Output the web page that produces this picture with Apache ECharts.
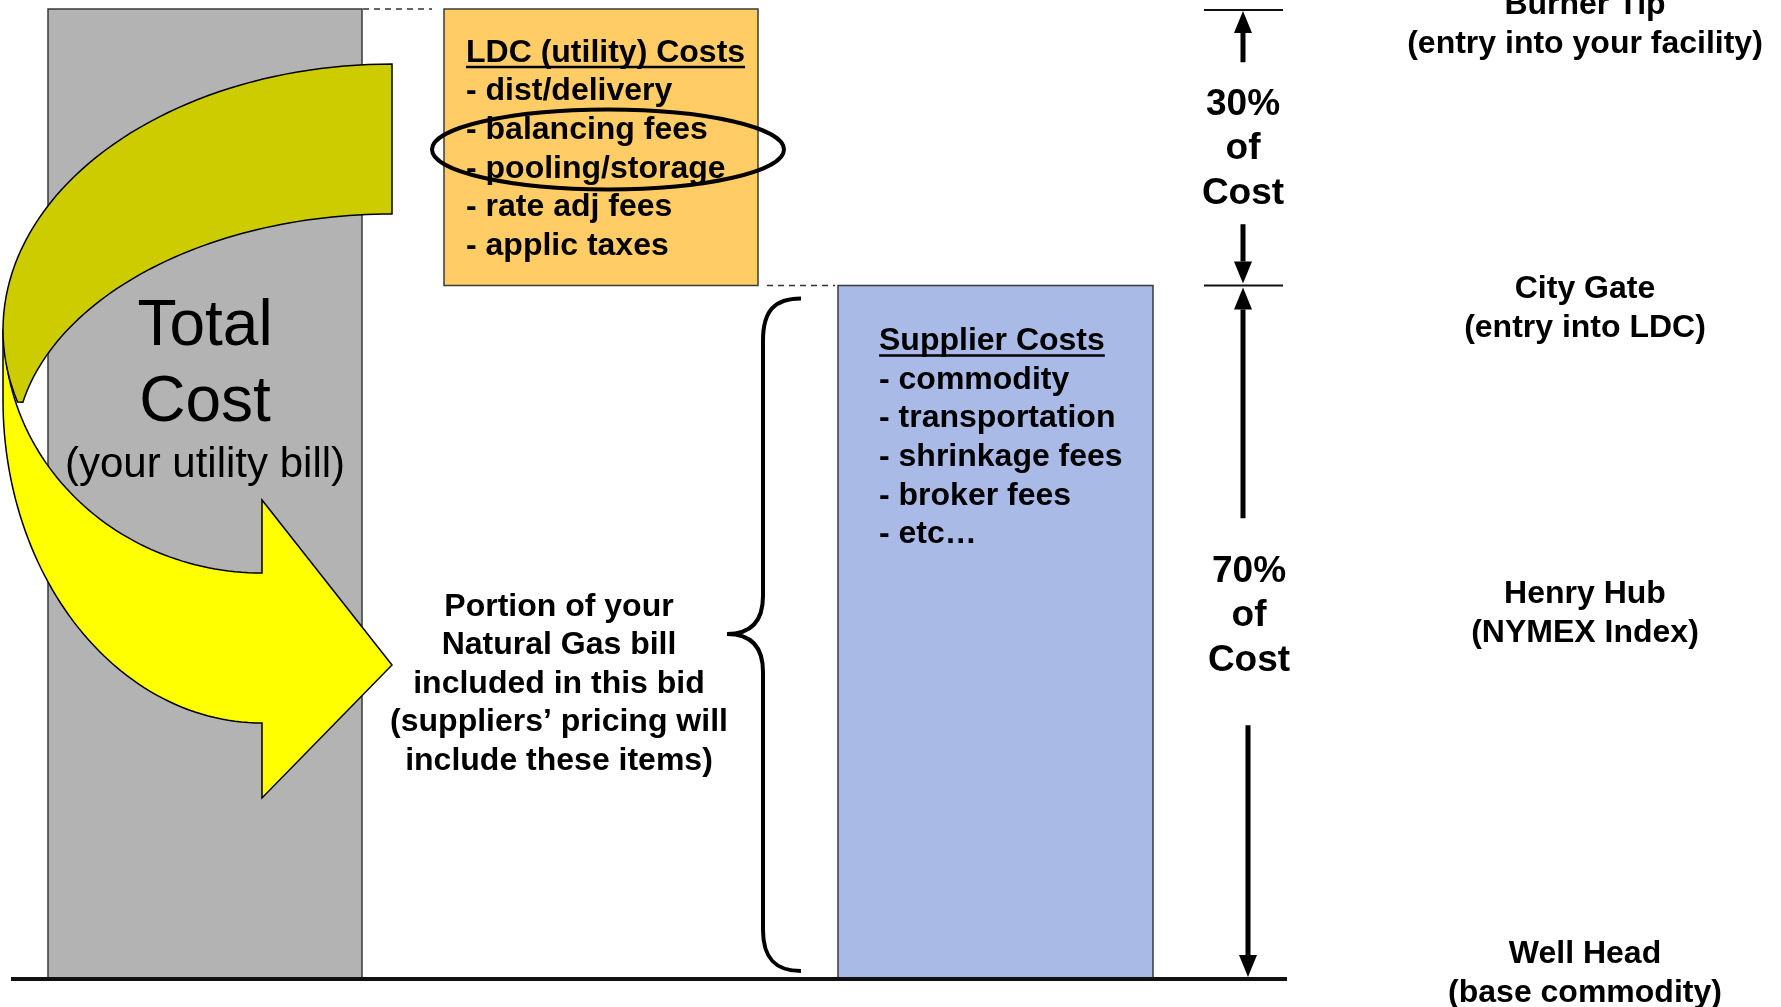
<!DOCTYPE html>
<html>
<head>
<meta charset="utf-8">
<script type="text/javascript" src="https://cdn.jsdelivr.net/npm/echarts@6/dist/echarts.min.js"></script>
<style type="text/css">
    *{ margin: 0; padding: 0; }
    #main{ width: 1781px; height: 1007px; background: #fff; }
</style>
</head>
<body>
<div id="main"></div>
<script type="text/javascript">
// levels along the gas chain, in percent of the total bill (0 = well head)
var stationNames = ['Well Head', 'Henry Hub', 'City Gate', 'Burner Tip'];
var stationNotes = ['(base commodity)', '(NYMEX Index)', '(entry into LDC)', '(entry into your facility)'];
var stationLevels = [0, 38, 71.5, 100];

// cost blocks
var blockNames = ['Total Cost', 'LDC (utility) Costs', 'Supplier Costs'];
var blockLow = [0, 71.5, 0];
var blockHigh = [100, 100, 71.5];

var ldcItems = ['dist/delivery', 'balancing fees', 'pooling/storage', 'rate adj fees', 'applic taxes'];
var supplierItems = ['commodity', 'transportation', 'shrinkage fees', 'broker fees', 'etc…'];
var circledItems = ['balancing fees', 'pooling/storage'];

// share of cost brackets
var shareLabels = ['30%', '70%'];
var shareFrom = [71.5, 0];
var shareTo = [100, 71.5];

var totalLines = ['Total', 'Cost', '(your utility bill)'];
var portionLines = ['Portion of your', 'Natural Gas bill', 'included in this bid', '(suppliers’ pricing will', 'include these items)'];

// ---- layout / style ----
var FONT = 'Arial, "Liberation Sans", sans-serif';
var BOLD = 'bold 32px ' + FONT;
var LINE = 38.6;
var blockX = [[48, 362], [444, 758], [838, 1153]];
var blockColor = ['#b3b3b3', '#ffcc66', '#aabae6'];
var blockItems = [null, ldcItems, supplierItems];
var blockTextPad = [null, [22, 44], [41, 56]];
var stationX = 1585;
var stationOffset = [-5, 3, 23, 16];
var shareLayout = [
    {x: 1243, x2: 1243, tx: 1243, up: 85, down: 77, dt: 2},
    {x: 1243, x2: 1248, tx: 1249, up: 114, down: 93, dt: -16}
];

var mctx = document.createElement('canvas').getContext('2d');
function textWidth(t, font) { mctx.font = font; return mctx.measureText(t).width; }

function yOf(api, v) { return api.coord([0, v])[1]; }
function xOf(api, x) { return api.coord([x, 0])[0]; }

function txt(x, y, text, font, align, lh) {
    return {type: 'text', x: x, y: y, style: {text: text, font: font, fill: '#000', align: align || 'center', verticalAlign: 'middle', lineHeight: lh}};
}

function vArrow(x, yFrom, yTip) {
    var dir = yTip > yFrom ? 1 : -1;
    var yBase = yTip - dir * 22;
    return [
        {type: 'line', shape: {x1: x, y1: yFrom, x2: x, y2: yBase}, style: {stroke: '#000', lineWidth: 5}},
        {type: 'polygon', shape: {points: [[x - 9, yBase], [x + 9, yBase], [x, yTip]]}, style: {fill: '#000'}}
    ];
}

function ellipsePts(cx, cy, rx, ry, a0, a1) {
    var pts = [], n = 60;
    for (var k = 0; k <= n; k++) {
        var a = (a0 + (a1 - a0) * k / n) * Math.PI / 180;
        pts.push([cx + rx * Math.cos(a), cy + ry * Math.sin(a)]);
    }
    return pts;
}

function renderBlock(params, api) {
    var i = api.value(0);
    var x0 = xOf(api, blockX[i][0]), x1 = xOf(api, blockX[i][1]);
    var yTop = yOf(api, api.value(2)), yBot = yOf(api, api.value(1));
    var children = [{
        type: 'rect',
        shape: {x: x0, y: yTop, width: x1 - x0, height: yBot - yTop},
        style: {fill: blockColor[i], stroke: '#3a3a3a', lineWidth: 1.5}
    }];
    var items = blockItems[i];
    if (items) {
        var tx = x0 + blockTextPad[i][0], ty = yTop + blockTextPad[i][1];
        children.push(txt(tx, ty, blockNames[i], BOLD, 'left'));
        var w = textWidth(blockNames[i], BOLD);
        children.push({type: 'line', shape: {x1: tx, y1: ty + 14, x2: tx + w, y2: ty + 14}, style: {stroke: '#000', lineWidth: 2.5}});
        items.forEach(function (t, k) {
            children.push(txt(tx, ty + LINE * (k + 1), '- ' + t, BOLD, 'left'));
        });
    }
    return {type: 'group', children: children};
}

// big curved arrow from the total bill to the bid text
function renderArrow(params, api) {
    var yellow = [[3, 330]].concat(
        ellipsePts(262, 400, 259, 323, 180, 90),
        [[262, 798], [392, 665], [262, 500]],
        ellipsePts(262, 330, 258, 243, 90, 180)
    );
    var olive = ellipsePts(392, 330, 389, 266, 270, 164.3).concat(
        ellipsePts(392, 450, 377, 236, 191.7, 270)
    );
    return {type: 'group', children: [
        {type: 'polygon', shape: {points: yellow}, style: {fill: '#ffff00', stroke: '#000', lineWidth: 1.5}},
        {type: 'polygon', shape: {points: olive}, style: {fill: '#cccc00', stroke: '#000', lineWidth: 1.5}}
    ]};
}

function renderNotes(params, api) {
    var ch = [];
    var y0 = yOf(api, 0), yGate = yOf(api, 71.5), yTip = yOf(api, 100);

    // total cost label
    var cx = (xOf(api, blockX[0][0]) + xOf(api, blockX[0][1])) / 2;
    ch.push(txt(cx, 327, totalLines[0], '64px ' + FONT));
    ch.push(txt(cx, 403, totalLines[1], '64px ' + FONT));
    ch.push(txt(cx, 465, totalLines[2], '42px ' + FONT));

    // dashed connectors
    ch.push({type: 'line', shape: {x1: 363, y1: yTip, x2: 432, y2: yTip}, style: {stroke: '#333', lineWidth: 1.5, lineDash: [6, 5]}});
    ch.push({type: 'line', shape: {x1: 767, y1: yGate, x2: 835, y2: yGate}, style: {stroke: '#333', lineWidth: 1.5, lineDash: [6, 5]}});

    // circled items in the LDC box
    var k = ldcItems.indexOf(circledItems[0]);
    var ly = yOf(api, blockHigh[1]) + blockTextPad[1][1] + LINE * (k + 1.5);
    ch.push({type: 'ellipse', shape: {cx: 608, cy: ly, rx: 176, ry: 40}, style: {fill: null, stroke: '#000', lineWidth: 4}});

    // brace + portion text
    var bt = yGate + 13, bb = y0 - 8, bm = 634;
    ch.push({type: 'path', shape: {pathData:
        'M801,' + bt + ' C775,' + bt + ' 763,' + (bt + 12) + ' 763,' + (bt + 42) +
        ' L763,' + (bm - 38) + ' C763,' + (bm - 12) + ' 750,' + bm + ' 727,' + bm +
        ' C750,' + bm + ' 763,' + (bm + 12) + ' 763,' + (bm + 38) +
        ' L763,' + (bb - 41) + ' C763,' + (bb - 13) + ' 775,' + bb + ' 801,' + bb
    }, style: {fill: null, stroke: '#000', lineWidth: 4}});
    ch.push(txt(559, 684, portionLines.join('\n'), BOLD, 'center', LINE));

    // baseline and level ticks
    ch.push({type: 'line', shape: {x1: 11, y1: y0, x2: 1287, y2: y0}, style: {stroke: '#111', lineWidth: 4}});
    ch.push({type: 'line', shape: {x1: 1204, y1: yTip + 1, x2: 1283, y2: yTip + 1}, style: {stroke: '#111', lineWidth: 2}});
    ch.push({type: 'line', shape: {x1: 1204, y1: yGate, x2: 1283, y2: yGate}, style: {stroke: '#111', lineWidth: 2}});

    // share brackets
    shareLabels.forEach(function (lab, s) {
        var L = shareLayout[s];
        var top = yOf(api, shareTo[s]), bot = yOf(api, shareFrom[s]);
        var mid = (top + bot) / 2;
        ch.push.apply(ch, vArrow(L.x, mid - L.up, top + 2));
        ch.push.apply(ch, vArrow(L.x2, mid + L.down, bot - 2));
        ch.push(txt(L.tx, mid + L.dt, lab + '\nof\nCost', 'bold 37px ' + FONT, 'center', 44.5));
    });

    // stations
    stationNames.forEach(function (n, i) {
        ch.push(txt(stationX, yOf(api, stationLevels[i]) + stationOffset[i], n + '\n' + stationNotes[i], BOLD, 'center', 39));
    });

    return {type: 'group', children: ch};
}

var chart = echarts.init(document.getElementById('main'));
chart.setOption({
    backgroundColor: '#ffffff',
    animation: false,
    grid: {left: 0, right: 0, top: 9, bottom: 28},
    xAxis: {type: 'value', min: 0, max: 1781, show: false},
    yAxis: {type: 'value', min: 0, max: 100, show: false},
    series: [
        {
            type: 'custom', name: 'blocks', z: 1, clip: false,
            renderItem: renderBlock,
            data: blockNames.map(function (n, i) { return [i, blockLow[i], blockHigh[i]]; })
        },
        {
            type: 'custom', name: 'arrow', z: 2, clip: false, silent: true,
            renderItem: renderArrow,
            data: [[0, 0]]
        },
        {
            type: 'custom', name: 'notes', z: 3, clip: false, silent: true,
            renderItem: renderNotes,
            data: [[0, 0]]
        }
    ]
});
</script>
</body>
</html>
